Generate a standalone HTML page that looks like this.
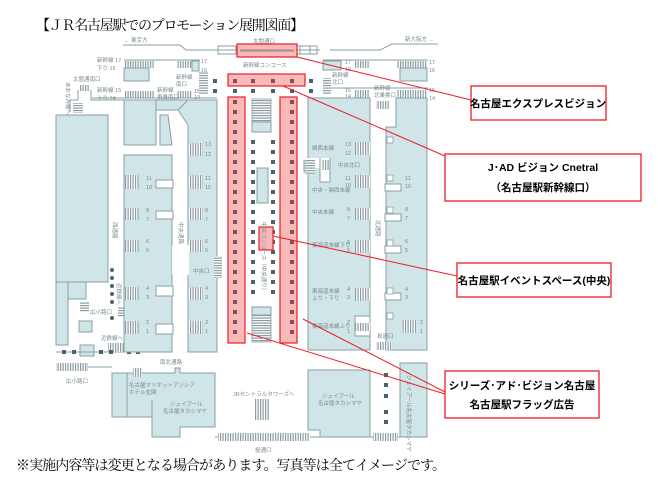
<!DOCTYPE html>
<html><head><meta charset="utf-8"><style>
html,body{margin:0;padding:0;background:#fff;width:658px;height:488px;overflow:hidden}
svg{display:block}
.t{font-family:"Liberation Sans","Noto Sans CJK JP",sans-serif;fill:#7a8a8e;font-size:5.5px}
.b{fill:#cfe5e7;stroke:#889fa4;stroke-width:1}
.l{fill:none;stroke:#889fa4;stroke-width:1}
.sq{fill:#4a6270}
.rq{fill:#8b4d57}
.red{fill:#f8b9b9;stroke:#ee1c25;stroke-width:1.2}
.rl{stroke:#ee1c25;stroke-width:1;fill:none}
.box{fill:#fff;stroke:#ee1c25;stroke-width:1.3}
.ct{font-family:"Liberation Sans","Noto Sans CJK JP",sans-serif;font-size:10.5px;fill:#000;font-weight:bold}
</style></head><body>
<svg width="658" height="488" viewBox="0 0 658 488" xmlns="http://www.w3.org/2000/svg">
<defs>
<pattern id="vs" width="2.5" height="10" patternUnits="userSpaceOnUse"><rect width="2.5" height="10" fill="#fff"/><rect width="1.2" height="10" fill="#8a9ea2"/></pattern>
<pattern id="hs" width="10" height="2.5" patternUnits="userSpaceOnUse"><rect width="10" height="2.5" fill="#fff"/><rect width="10" height="1.2" fill="#8a9ea2"/></pattern>
</defs>
<text x="36" y="30" font-family="Liberation Serif,'Noto Serif CJK SC',serif" font-size="14" textLength="268" fill="#000">【ＪＲ名古屋駅でのプロモーション展開図面】</text>

<!-- top line -->
<text class="t" x="124" y="42">←  東京方</text>
<polyline class="l" points="123,45 180,45 186,50 320,50"/>
<polyline class="l" points="330,50 380,50 392,44 438,44"/>
<text class="t" x="405" y="41">新大阪方  →</text>
<rect x="218" y="46" width="18" height="8" fill="none" stroke="#889fa4"/>
<rect x="297" y="46" width="20" height="8" fill="none" stroke="#889fa4"/>
<rect x="300" y="46" width="10" height="8" fill="none" stroke="#889fa4"/>
<text class="t" x="253" y="43">太閤通口</text>
<rect class="red" x="237" y="44" width="60" height="13"/>
<line x1="240" y1="50.5" x2="294" y2="50.5" stroke="#a88" stroke-width="2"/>
<text class="t" x="243" y="67">新幹線コンコース</text>

<!-- left top platforms -->
<line class="l" x1="124" y1="60" x2="200" y2="60"/>
<rect x="125" y="61" width="29" height="7" fill="url(#vs)"/>
<rect x="177" y="61" width="15" height="7" fill="url(#vs)"/>
<rect class="b" x="124" y="68" width="25" height="13"/>
<rect class="b" x="192" y="61" width="7" height="10"/>
<rect x="125" y="91" width="29" height="7" fill="url(#vs)"/>
<rect x="177" y="91" width="15" height="7" fill="url(#vs)"/>
<line class="l" x1="92" y1="98" x2="217" y2="98"/>
<text class="t" x="97" y="62">新幹線 17</text><text class="t" x="97" y="70">下り      16</text>
<text class="t" x="97" y="92">新幹線 15</text><text class="t" x="97" y="100">上り      14</text>
<text class="t" x="176" y="79">新幹線</text><text class="t" x="176" y="86">南口</text>
<text class="t" x="157" y="92">新幹線</text><text class="t" x="157" y="99">東乗南口</text>
<text class="t" x="201" y="63">17</text><text class="t" x="201" y="72">16</text><text class="t" x="194" y="93">15</text><text class="t" x="194" y="99">14</text>
<rect x="199" y="72" width="9" height="22" fill="url(#hs)"/>
<rect x="158" y="101" width="16" height="9" fill="url(#vs)"/>
<text class="t" x="73" y="81">太閤通南口</text>
<rect x="80" y="85" width="9" height="6" fill="url(#vs)"/>
<polyline class="l" points="78,90 78,100 70,100 70,112"/>
<polyline class="l" points="91,90 91,100 124,100"/>
<rect x="73" y="103" width="10" height="10" fill="url(#hs)"/>
<text class="t" transform="translate(66,82) rotate(90)">あおなみ線へ</text>

<!-- left big blocks -->
<path class="b" d="M56,115 H108 V282 H56 Z"/>
<path class="b" d="M56,282 H68 V345 H56 Z"/>
<rect class="b" x="68" y="282" width="18" height="17"/>
<rect class="b" x="79" y="321" width="13" height="11"/>
<rect class="b" x="80" y="345" width="14" height="11" />
<line class="l" x1="56" y1="352" x2="140" y2="352"/>
<text class="t" x="90" y="314">広小路口</text>
<rect x="80" y="302" width="9" height="10" fill="url(#hs)"/>
<rect x="118" y="307" width="7" height="10" fill="url(#hs)"/>
<text class="t" transform="translate(117,283) rotate(90)">近鉄線へ</text>
<text class="t" x="101" y="340">近鉄線へ</text>
<rect x="108" y="343" width="16" height="9" fill="url(#vs)"/>
<g class="sq">
<circle cx="112" cy="270" r="2"/><circle cx="112" cy="278" r="2"/><circle cx="112" cy="286" r="2"/><circle cx="112" cy="294" r="2"/><circle cx="112" cy="302" r="2"/><circle cx="112" cy="318" r="2"/>
<rect x="62" y="350" width="4" height="4"/><rect x="72" y="350" width="4" height="4"/><rect x="99" y="350" width="4" height="4"/><rect x="109" y="350" width="4" height="4"/><rect x="127" y="350" width="4" height="4"/><rect x="136" y="350" width="4" height="4"/>
</g>

<!-- column 2/3 blocks -->
<path class="b" d="M124,100 H217 V110 H124 Z"/>
<path class="b" d="M124,100 H156 V145 H124 Z"/>
<path class="b" d="M188,100 L217,100 V352 L188,352 L188,125 L178,110 Z"/>
<path class="b" d="M160,115 H168 L172,145 H160 Z"/>
<path class="b" d="M124,155 H172 V352 H124 Z"/>
<g fill="#fff" stroke="#889fa4">
<rect x="156" y="180" width="17" height="8"/><rect x="156" y="211" width="17" height="8"/><rect x="156" y="286" width="17" height="10"/><rect x="156" y="324" width="17" height="10"/>
<rect x="172" y="245" width="17" height="30" stroke="none"/>
</g>
<g fill="url(#vs)">
<rect x="125" y="175" width="14" height="14"/><rect x="125" y="208" width="14" height="12"/><rect x="125" y="240" width="14" height="12"/><rect x="125" y="287" width="14" height="13"/><rect x="125" y="321" width="14" height="13"/>
<rect x="189" y="143" width="14" height="13"/><rect x="189" y="175" width="14" height="14"/><rect x="189" y="208" width="14" height="12"/><rect x="189" y="240" width="14" height="12"/><rect x="189" y="287" width="14" height="13"/><rect x="189" y="321" width="14" height="13"/>
</g>
<rect x="214" y="256" width="8" height="22" fill="url(#hs)"/>
<text class="t" x="193" y="273">中央口</text>
<text class="t" transform="translate(113,222) rotate(90)">西通路</text>
<text class="t" transform="translate(179,222) rotate(90)">中央通路</text>
<g class="t"><text x="146" y="180">11</text><text x="146" y="189">10</text><text x="146" y="212">8</text><text x="146" y="221">7</text><text x="146" y="243">6</text><text x="146" y="252">5</text><text x="146" y="290">4</text><text x="146" y="299">3</text><text x="146" y="324">2</text><text x="146" y="333">1</text>
<text x="205" y="146">13</text><text x="205" y="156">12</text><text x="205" y="180">11</text><text x="205" y="189">10</text><text x="205" y="212">8</text><text x="205" y="221">7</text><text x="205" y="243">6</text><text x="205" y="252">5</text><text x="205" y="290">4</text><text x="205" y="299">3</text><text x="205" y="324">2</text><text x="205" y="333">1</text></g>

<!-- center -->
<rect class="red" x="228" y="74" width="77" height="12"/>
<rect class="red" x="228" y="97" width="17" height="246"/>
<rect class="red" x="280" y="97" width="17" height="246"/>
<g class="sq">
<rect x="213" y="79" width="4" height="4"/><rect x="309" y="79" width="4" height="4"/>
<rect x="213" y="89" width="4" height="4"/><rect x="233" y="89" width="4" height="4"/><rect x="251" y="89" width="4" height="4"/><rect x="271" y="89" width="4" height="4"/><rect x="290" y="89" width="4" height="4"/><rect x="309" y="89" width="4" height="4"/>
</g>
<g class="rq">
<rect x="233" y="79" width="4" height="4"/><rect x="251" y="79" width="4" height="4"/><rect x="271" y="79" width="4" height="4"/><rect x="290" y="79" width="4" height="4"/>
</g>
<g id="rcol" class="rq">
<rect x="233" y="100" width="4" height="4"/><rect x="233" y="110" width="4" height="4"/><rect x="233" y="120" width="4" height="4"/><rect x="233" y="130" width="4" height="4"/><rect x="233" y="140" width="4" height="4"/><rect x="233" y="150" width="4" height="4"/><rect x="233" y="160" width="4" height="4"/><rect x="233" y="170" width="4" height="4"/><rect x="233" y="180" width="4" height="4"/><rect x="233" y="190" width="4" height="4"/><rect x="233" y="200" width="4" height="4"/><rect x="233" y="210" width="4" height="4"/><rect x="233" y="220" width="4" height="4"/><rect x="233" y="230" width="4" height="4"/><rect x="233" y="240" width="4" height="4"/><rect x="233" y="250" width="4" height="4"/><rect x="233" y="260" width="4" height="4"/><rect x="233" y="270" width="4" height="4"/><rect x="233" y="280" width="4" height="4"/><rect x="233" y="290" width="4" height="4"/><rect x="233" y="300" width="4" height="4"/><rect x="233" y="310" width="4" height="4"/><rect x="233" y="320" width="4" height="4"/><rect x="233" y="330" width="4" height="4"/>
</g>
<use href="#rcol" x="57"/>
<g id="ccol" class="sq">
<rect x="251" y="140" width="4" height="4"/><rect x="251" y="150" width="4" height="4"/><rect x="251" y="160" width="4" height="4"/><rect x="251" y="170" width="4" height="4"/><rect x="251" y="180" width="4" height="4"/><rect x="251" y="190" width="4" height="4"/><rect x="251" y="200" width="4" height="4"/><rect x="251" y="210" width="4" height="4"/><rect x="251" y="220" width="4" height="4"/><rect x="251" y="230" width="4" height="4"/><rect x="251" y="240" width="4" height="4"/><rect x="251" y="250" width="4" height="4"/><rect x="251" y="260" width="4" height="4"/><rect x="251" y="270" width="4" height="4"/><rect x="251" y="280" width="4" height="4"/><rect x="251" y="290" width="4" height="4"/>
</g>
<use href="#ccol" x="20"/>
<rect x="252" y="99" width="19" height="23" fill="url(#hs)" stroke="#889fa4" stroke-width=".8"/>
<rect class="b" x="252" y="122" width="19" height="10"/>
<rect class="b" x="257" y="168" width="11" height="35"/>
<rect class="b" x="252" y="307" width="19" height="8"/>
<rect x="252" y="315" width="19" height="27" fill="url(#hs)" stroke="#889fa4" stroke-width=".8"/>
<rect class="red" x="259" y="227" width="14" height="23" fill="none"/>
<text class="t" transform="translate(262,222) rotate(90)">中央コンコース（中央通り）</text>

<!-- right top -->
<line class="l" x1="323" y1="60" x2="428" y2="60"/>
<rect class="b" x="323" y="61" width="18" height="9"/>
<rect x="355" y="61" width="15" height="7" fill="url(#vs)"/>
<rect x="397" y="61" width="30" height="7" fill="url(#vs)"/>
<rect class="b" x="400" y="68" width="27" height="13"/>
<rect x="323" y="78" width="8" height="16" fill="url(#hs)"/>
<rect x="355" y="90" width="15" height="8" fill="url(#vs)"/>
<rect x="397" y="90" width="30" height="8" fill="url(#vs)"/>
<line class="l" x1="323" y1="88" x2="428" y2="88"/>
<text class="t" x="332" y="77">新幹線</text><text class="t" x="332" y="84">北口</text>
<text class="t" x="374" y="90">新幹線</text><text class="t" x="374" y="97">北乗換口</text>
<text class="t" x="345" y="64">17</text><text class="t" x="345" y="71">16</text><text class="t" x="345" y="92">15</text><text class="t" x="345" y="98">14</text>
<text class="t" x="429" y="64">17</text><text class="t" x="429" y="72">16</text><text class="t" x="429" y="92">15</text><text class="t" x="429" y="100">14</text>
<rect x="376" y="101" width="14" height="8" fill="url(#vs)"/>

<!-- right blocks -->
<path class="b" d="M308,98 H370 V350 H308 Z"/>
<path class="b" d="M386,127 L396,127 L396,98 L427,98 V350 H386 Z"/>
<g fill="#fff" stroke="#889fa4">
<rect x="300" y="158" width="20" height="10" stroke="none"/>
<path d="M320,158 V182 H330 V158"/>
<rect x="355" y="316" width="15" height="20"/>
<rect x="385" y="184" width="16" height="7"/><rect x="385" y="214" width="16" height="7"/><rect x="385" y="246" width="16" height="7"/><rect x="385" y="293" width="16" height="7"/>
</g>
<rect class="b" x="304" y="161" width="7" height="11"/>
<g fill="url(#vs)">
<rect x="355" y="142" width="15" height="13"/><rect x="355" y="175" width="15" height="13"/><rect x="355" y="208" width="15" height="12"/><rect x="355" y="240" width="15" height="13"/><rect x="355" y="288" width="15" height="13"/><rect x="355" y="323" width="15" height="8"/>
<rect x="402" y="320" width="14" height="13"/><rect x="322" y="160" width="7" height="10"/>
</g>
<rect x="305" y="160" width="10" height="14" fill="url(#hs)"/>
<rect x="376" y="342" width="16" height="8" fill="url(#vs)"/>
<g fill="#fff" stroke="#889fa4" stroke-width=".8">
<rect x="387" y="137" width="6" height="6"/><rect x="387" y="175" width="6" height="6"/><rect x="387" y="207" width="6" height="6"/><rect x="387" y="240" width="6" height="6"/><rect x="387" y="288" width="6" height="6"/><rect x="387" y="313" width="6" height="6"/>
</g>
<g class="t">
<text x="312" y="150">関西本線</text><text x="345" y="146">13</text><text x="345" y="155">12</text>
<text x="338" y="167">中央北口</text>
<text x="312" y="192">中央・関西本線</text><text x="345" y="180">11</text><text x="345" y="187">10</text>
<text x="312" y="214">中央本線</text><text x="347" y="211">8</text><text x="347" y="220">7</text>
<text x="312" y="247">東海道本線下り</text><text x="347" y="244">6</text><text x="347" y="252">5</text>
<text x="312" y="293">東海道本線</text><text x="312" y="300">上り・下り</text><text x="347" y="291">4</text><text x="347" y="299">3</text>
<text x="312" y="328">東海道本線上り</text><text x="347" y="324">2</text><text x="347" y="333">1</text>
<text x="377" y="338">桜通口</text>
<text x="405" y="180">11</text><text x="405" y="188">10</text><text x="405" y="211">8</text><text x="405" y="220">7</text><text x="405" y="243">6</text><text x="405" y="252">5</text><text x="405" y="291">4</text><text x="405" y="299">3</text><text x="420" y="324">2</text><text x="420" y="333">1</text>
</g>
<text class="t" transform="translate(376,220) rotate(90)">北通路</text>

<!-- bottom -->
<text class="t" x="160" y="364">南北通路</text>
<line class="l" x1="56" y1="367" x2="112" y2="367"/>
<rect x="56" y="363" width="32" height="8" fill="url(#vs)"/>
<text class="t" x="66" y="383">広小路口</text>
<path class="b" d="M112,373 H175 V368 H180 V373 H215 V427 H180 V437 H152 V417 H112 Z"/>
<line class="l" x1="127" y1="373" x2="127" y2="417"/>
<line class="l" x1="152" y1="400" x2="152" y2="417"/>
<rect x="133" y="368" width="9" height="9" fill="url(#vs)"/>
<text class="t" x="129" y="387">名古屋マリオットアソシア</text><text class="t" x="129" y="394">ホテル玄関</text>
<text class="t" x="170" y="406">ジェイアール</text><text class="t" x="163" y="413">名古屋タカシマヤ</text>
<line class="l" x1="215" y1="437" x2="400" y2="437"/>
<rect x="218" y="433" width="92" height="8" fill="url(#vs)"/>
<text class="t" x="255" y="452">桜通口</text>
<text class="t" x="233" y="396">JRセントラルタワーズへ</text>
<rect x="255" y="399" width="15" height="21" fill="url(#vs)"/>
<path class="b" d="M308,370 H370 V437 H320 V430 H308 Z"/>
<text class="t" x="322" y="398">ジェイアール</text><text class="t" x="318" y="405">名古屋タカシマヤ</text>
<path class="b" d="M400,363 H427 V437 H400 Z"/>
<text class="t" transform="translate(407,375) rotate(90)" font-size="7">ジェイアール名古屋タカシマヤ</text>
<g class="sq"><rect x="384" y="373" width="4" height="4"/><rect x="384" y="383" width="4" height="4"/><rect x="384" y="394" width="4" height="4"/><rect x="384" y="410" width="4" height="4"/><rect x="384" y="420" width="4" height="4"/></g>
<rect x="373" y="433" width="25" height="8" fill="url(#vs)"/>

<!-- callouts -->
<line class="rl" x1="297" y1="57" x2="471" y2="100"/>
<line class="rl" x1="283" y1="86" x2="445" y2="156"/>
<line class="rl" x1="273" y1="236" x2="457" y2="276"/>
<line class="rl" x1="247" y1="333" x2="445" y2="394"/>
<line class="rl" x1="303" y1="319" x2="445" y2="392"/>
<rect class="box" x="471" y="86" width="135" height="34"/>
<text class="ct" x="538" y="107" text-anchor="middle">名古屋エクスプレスビジョン</text>
<rect class="box" x="445" y="154" width="196" height="47"/>
<text class="ct" x="543" y="171" text-anchor="middle">J･AD ビジョン Cnetral</text>
<text class="ct" x="543" y="191" text-anchor="middle">（名古屋駅新幹線口）</text>
<rect class="box" x="457" y="263" width="154" height="34"/>
<text class="ct" x="534" y="284" text-anchor="middle">名古屋駅イベントスペース(中央)</text>
<rect class="box" x="445" y="371" width="154" height="47"/>
<text class="ct" x="522" y="389" text-anchor="middle">シリーズ･アド･ビジョン名古屋</text>
<text class="ct" x="522" y="408" text-anchor="middle">名古屋駅フラッグ広告</text>

<text x="16" y="470" font-family="Liberation Serif,'Noto Serif CJK SC',serif" font-size="14" textLength="430" fill="#000">※実施内容等は変更となる場合があります。写真等は全てイメージです。</text>
</svg>
</body></html>
